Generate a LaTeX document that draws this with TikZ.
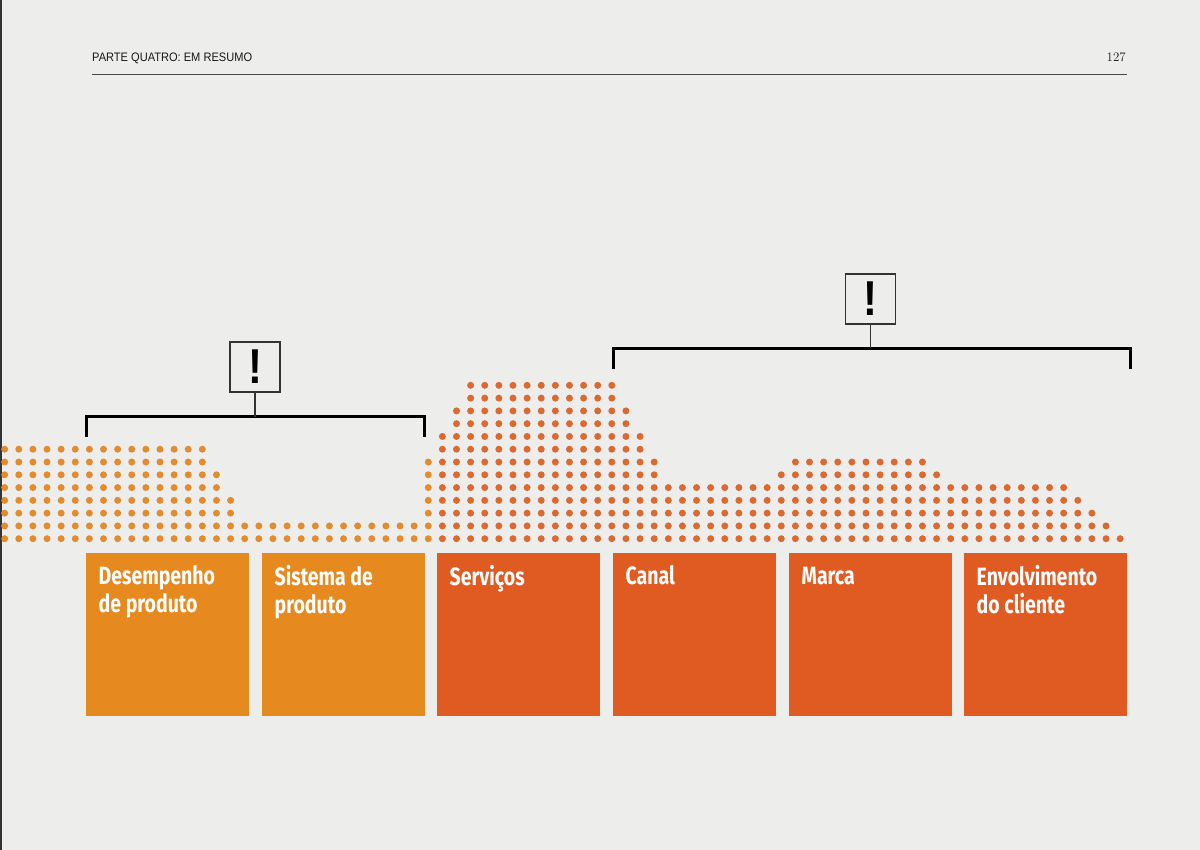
\documentclass[tikz,border=0pt]{standalone}
\usepackage{fontspec}
\newfontfamily\boxfont[FakeStretch=0.78]{Fira Sans}
\newfontfamily\headfont[FakeStretch=0.9]{Liberation Sans}
\newfontfamily\exclfont[FakeStretch=0.85]{Liberation Sans}
\definecolor{bg}{HTML}{EDEDEC}
\definecolor{boxorange}{HTML}{E6891F}
\definecolor{boxred}{HTML}{E05B22}
\definecolor{dotorange}{HTML}{E38C2E}
\definecolor{dotred}{HTML}{DB6A31}
\definecolor{ink}{HTML}{333333}
\tikzset{
  catbox/.style={draw=none, fill=#1, minimum width=162.5pt, minimum height=163pt, inner sep=0pt, anchor=north west},
  catlabel/.style={anchor=north west, inner sep=0pt, align=left, text=white,
    font=\boxfont\bfseries\fontsize{25}{27.7}\selectfont},
  exbox/.style={draw=ink, line width=1.3pt, fill=bg, minimum width=50pt, minimum height=50pt, inner sep=0pt,
    font=\exclfont\bfseries\fontsize{49}{49}\selectfont},
  bracketline/.style={line width=3pt, line cap=butt, line join=miter, black},
  stem/.style={line width=1.5pt, ink},
  dotsty/.style={fill=#1, draw=none}
}
\newcommand\lblstrut{\rule{0pt}{19pt}}
\begin{document}
\begin{tikzpicture}[x=1pt,y=-1pt]
\useasboundingbox (0,0) rectangle (1200,850);
\fill[bg] (0,0) rectangle (1200,850);
\draw[line width=1.5pt, ink] (1,0) -- (1,850);

% header
\node[anchor=base west, inner sep=0pt, font=\headfont\fontsize{12.3}{12.3}\selectfont, text=black!90] (head) at (92,61.7) {PARTE QUATRO: EM RESUMO};
\node[anchor=base east, inner sep=0pt, font=\fontsize{13}{13}\selectfont, text=black!90] (pagenum) at (1126,62) {127};
\draw[line width=1.6pt, ink!90] (92,74.5) -- (1127,74.5);

% dots
\foreach \c [count=\i from 0] in {8,8,8,8,8,8,8,8,8,8,8,8,8,8,8,6,4,2,2,2,2,2,2,2,2,2,2,2,2,2,7,9,11,13,13,13,13,13,13,13,13,13,13,13,11,9,7,5,5,5,5,5,5,5,5,6,7,7,7,7,7,7,7,7,7,7,6,5,5,5,5,5,5,5,5,5,4,3,2,1}{
  \pgfmathtruncatemacro\topk{\c-1}
  \pgfmathsetmacro\xx{4.67+14.12*\i}
  \ifnum\i<31 \def\dc{dotorange}\else\def\dc{dotred}\fi
  \foreach \k in {0,...,\topk}{
    \fill[dotsty=\dc] (\xx,{538.7-12.78*\k}) circle[radius=3.5pt];
  }
}

% category boxes
\node[catbox=boxorange] (b1) at (86,553) {};
\node[catbox=boxorange] (b2) at (262,553) {};
\node[catbox=boxred] (b3) at (437,553) {};
\node[catbox=boxred] (b4) at (613,553) {};
\node[catbox=boxred] (b5) at (789,553) {};
\node[catbox=boxred] (b6) at (964,553) {};

\node[catlabel] (t1) at ([xshift=12.5pt,yshift=-12.5pt]b1.north west) {\lblstrut Desempenho\\de produto};
\node[catlabel] (t2) at ([xshift=12.5pt,yshift=-12.5pt]b2.north west) {\lblstrut Sistema de\\produto};
\node[catlabel] (t3) at ([xshift=12.5pt,yshift=-12.5pt]b3.north west) {\lblstrut Serviços};
\node[catlabel] (t4) at ([xshift=12.5pt,yshift=-12.5pt]b4.north west) {\lblstrut Canal};
\node[catlabel] (t5) at ([xshift=12.5pt,yshift=-12.5pt]b5.north west) {\lblstrut Marca};
\node[catlabel] (t6) at ([xshift=12.5pt,yshift=-12.5pt]b6.north west) {\lblstrut Envolvimento\\do cliente};

% brackets
\coordinate (l1a) at (86,437);
\coordinate (l1b) at (424,437);
\coordinate (l1m) at (255,416.5);
\draw[bracketline] (l1a) |- (l1m) -| (l1b);
\node[exbox] (ex1) at (255,367) {!};
\draw[stem] (ex1.south) -- (l1m);

\coordinate (r1a) at (613,369);
\coordinate (r1b) at (1130,369);
\coordinate (r1m) at (870.5,348.5);
\draw[bracketline] (r1a) |- (r1m) -| (r1b);
\node[exbox] (ex2) at (870.5,299) {!};
\draw[stem] (ex2.south) -- (r1m);
\end{tikzpicture}
\end{document}
